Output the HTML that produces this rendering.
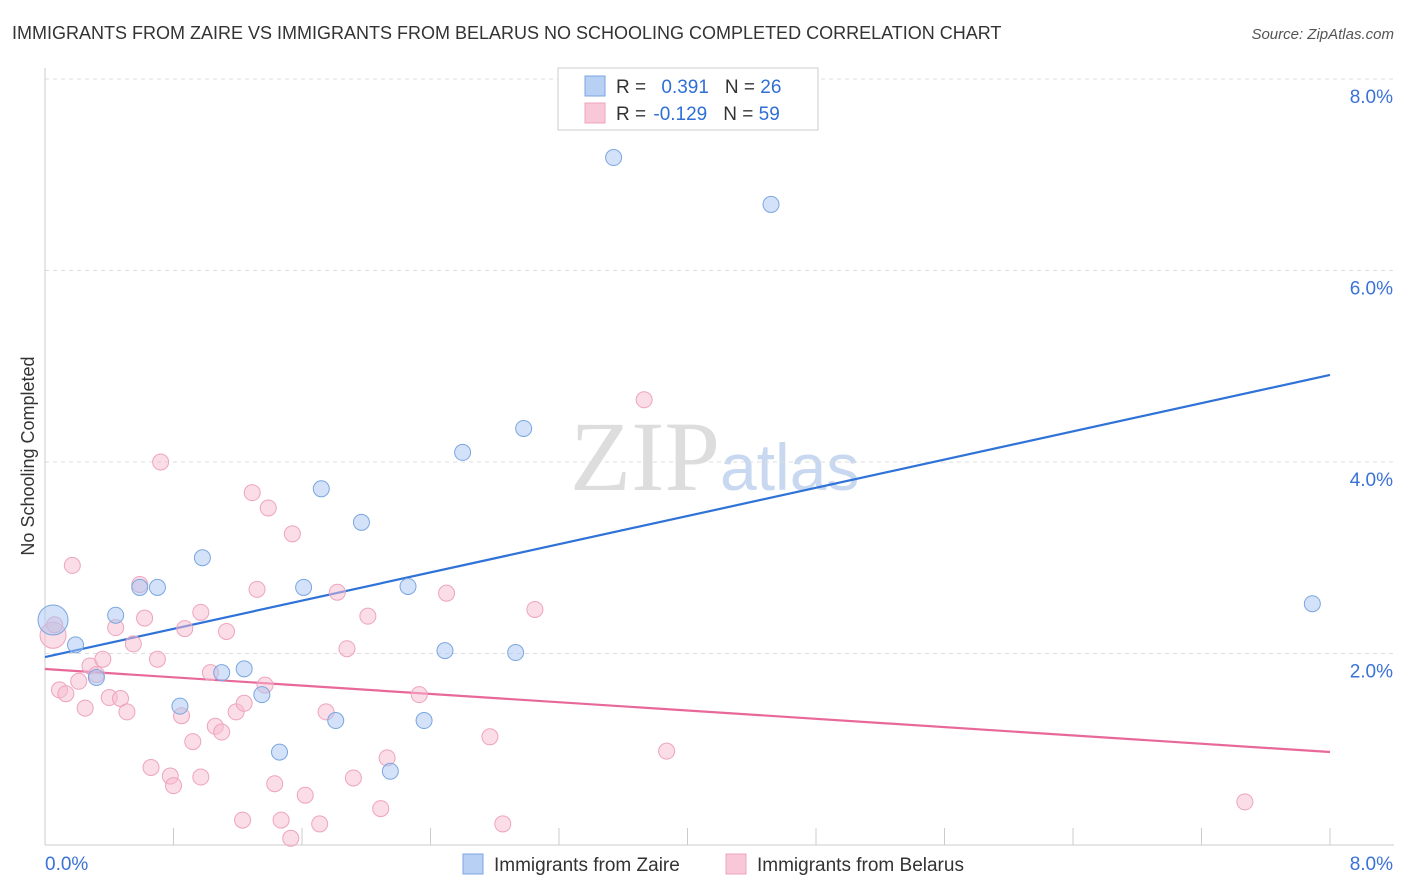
<!DOCTYPE html>
<html><head><meta charset="utf-8"><style>
body{margin:0;background:#fff;font-family:"Liberation Sans",sans-serif;}
svg{display:block}
</style></head><body>
<svg id="c" width="1406" height="892">
<text x="12" y="39" font-size="18" fill="#333">IMMIGRANTS FROM ZAIRE VS IMMIGRANTS FROM BELARUS NO SCHOOLING COMPLETED CORRELATION CHART</text>
<text x="1394" y="39" font-size="15" fill="#555" font-style="italic" text-anchor="end">Source: ZipAtlas.com</text>
<text x="720" y="490" font-size="100" fill="#ddd" text-anchor="end" font-family="Liberation Serif">ZIP</text>
<text x="720" y="490" font-size="66" fill="#c8d8f0">atlas</text>
<text transform="translate(34,456) rotate(-90)" font-size="18" fill="#333" text-anchor="middle">No Schooling Completed</text>
<g id="grid"></g><g id="trend"></g><g id="pts"></g>
<g>
<rect x="558" y="68" width="260" height="62" fill="#fff" stroke="#ccc"/>
<rect x="585" y="76" width="20" height="20" fill="#b8d0f4" stroke="#7aa6e0"/>
<rect x="585" y="103" width="20" height="20" fill="#f9c8d8" stroke="#eea4bc"/>
<text x="616" y="93" font-size="19" fill="#333">R = <tspan fill="#2f6fd6" dx="10">0.391</tspan><tspan dx="16" fill="#333">N = </tspan><tspan fill="#2f6fd6">26</tspan></text>
<text x="616" y="120" font-size="19" fill="#333">R = <tspan fill="#2f6fd6" dx="2">-0.129</tspan><tspan dx="16" fill="#333">N = </tspan><tspan fill="#2f6fd6">59</tspan></text>
</g>
<g>
<rect x="463" y="854" width="20" height="20" fill="#b8d0f4" stroke="#7aa6e0"/>
<text x="494" y="871" font-size="19" fill="#333">Immigrants from Zaire</text>
<rect x="726" y="854" width="20" height="20" fill="#f9c8d8" stroke="#eea4bc"/>
<text x="757" y="871" font-size="19" fill="#333">Immigrants from Belarus</text>
</g>
</svg>
<script>
const yTicks=[2,4,6,8];
const yTickLabels=["2.0%","4.0%","6.0%","8.0%"];
const xTickLabels=["0.0%","8.0%"];
const zaireX=[0.05,0.19,0.44,0.59,0.70,0.32,0.98,0.84,1.10,1.24,1.35,1.46,1.61,1.72,1.81,1.97,2.15,2.26,2.36,2.49,2.60,2.93,2.98,3.54,4.52,7.89];
const zaireY=[2.35,2.09,2.40,2.69,2.69,1.75,3.00,1.45,1.80,1.84,1.57,0.97,2.69,3.72,1.30,3.37,0.77,2.70,1.30,2.03,4.10,2.01,4.35,7.18,6.69,2.52];
const belX=[0.05,0.06,0.17,0.09,0.13,0.21,0.25,0.28,0.32,0.36,0.40,0.44,0.47,0.51,0.55,0.59,0.62,0.66,0.70,0.72,0.78,0.80,0.85,0.87,0.92,0.97,0.97,1.03,1.06,1.10,1.13,1.19,1.23,1.24,1.29,1.32,1.37,1.39,1.43,1.47,1.53,1.54,1.62,1.71,1.75,1.82,1.88,1.92,2.01,2.09,2.13,2.33,2.50,2.77,2.85,3.05,3.73,3.87,7.47];
const belY=[2.19,2.30,2.92,1.62,1.58,1.71,1.43,1.87,1.78,1.94,1.54,2.27,1.53,1.39,2.10,2.72,2.37,0.81,1.94,4.00,0.72,0.62,1.35,2.26,1.08,2.43,0.71,1.80,1.24,1.18,2.23,1.39,0.26,1.48,3.68,2.67,1.67,3.52,0.64,0.26,0.07,3.25,0.52,0.22,1.39,2.64,2.05,0.70,2.39,0.38,0.91,1.57,2.63,1.13,0.22,2.46,4.65,0.98,0.45];
const zaireTrend=[1.963,4.909];
const belTrend=[1.838,0.971];
const NS="http://www.w3.org/2000/svg";
const X=v=>45+v*160.625, Y=v=>845-v*95.75;
function mk(t,a,p){const e=document.createElementNS(NS,t);for(const k in a)e.setAttribute(k,a[k]);p.appendChild(e);return e;}
const g=document.getElementById('grid');
yTicks.forEach((t,i)=>{
 const l=mk('line',{x1:45,x2:1394,y1:Y(t),y2:Y(t),stroke:'#ddd','stroke-dasharray':'4,4'},g);
 
 
 const tx=mk('text',{x:1393,y:Y(t)+24,'font-size':19,fill:'#3a72d8','text-anchor':'end'},g);
 tx.textContent=yTickLabels[i];
 
 
});
const ax=mk('line',{x1:45,x2:45,y1:68,y2:845,stroke:'#ccc'},g);


const bx=mk('line',{x1:45,x2:1394,y1:845,y2:845,stroke:'#ccc'},g);


for(let i=0;i<=10;i++){const t=mk('line',{x1:X(i*0.8),x2:X(i*0.8),y1:828,y2:845,stroke:'#ccc'},g);
 
 }
[[0,'start',45],[8,'end',1393]].forEach((d,i)=>{const t=mk('text',{x:d[2],y:870,'font-size':19,fill:'#3a72d8','text-anchor':d[1]},g);t.textContent=xTickLabels[i];
 
 });
const p=document.getElementById('pts');
function pts(xs,ys,fill,st,name){xs.forEach((x,i)=>{const c=mk('circle',{cx:X(x),cy:Y(ys[i]),r:i==0?(name=='zaire-point'?15:13):8,fill:fill,stroke:st,'stroke-width':1},p);
 
 });}
pts(belX,belY,'rgba(248,188,208,0.5)','#eea4bc','belarus-point');
pts(zaireX,zaireY,'rgba(168,198,242,0.5)','#7aa6e0','zaire-point');
const tr=document.getElementById('trend');
const l1=mk('line',{x1:X(0),y1:Y(zaireTrend[0]),x2:X(8),y2:Y(zaireTrend[1]),stroke:'#2f72d8','stroke-width':2.2},tr);


const l2=mk('line',{x1:X(0),y1:Y(belTrend[0]),x2:X(8),y2:Y(belTrend[1]),stroke:'#e8689a','stroke-width':2.2},tr);


</script>
</body></html>
